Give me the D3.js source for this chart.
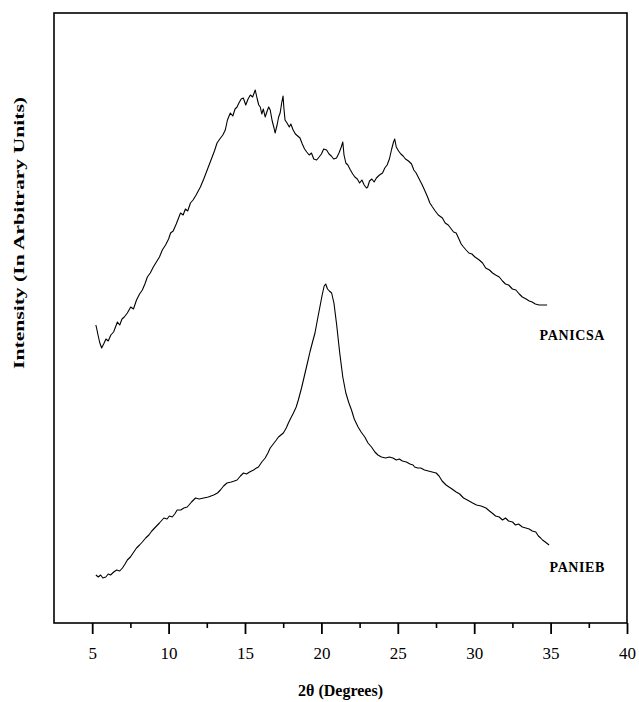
<!DOCTYPE html>
<html>
<head>
<meta charset="utf-8">
<script src="https://cdn.jsdelivr.net/npm/d3@7"></script>
<style>
  html, body { margin: 0; padding: 0; background: #fff; }
  svg { display: block; }
  text { font-family: "Liberation Serif", "Times New Roman", serif; fill: #000; }
</style>
</head>
<body>
<svg id="chart" width="639" height="702"></svg>
<script>
// X-ray diffraction patterns: 2θ (degrees) vs intensity (arbitrary units)
const xTicks = [5, 10, 15, 20, 25, 30, 35, 40];
const xMinorTicks = [7.5, 12.5, 17.5, 22.5, 27.5, 32.5, 37.5];

const panicsaAngle = [5.24, 5.30, 5.38, 5.50, 5.62, 5.75, 5.90, 6.05, 6.22, 6.40, 6.55, 6.65, 6.80, 6.95, 7.10, 7.30, 7.52, 7.70, 7.90, 8.10, 8.28, 8.45, 8.61, 8.80, 9.00, 9.20, 9.40, 9.59, 9.80, 10.00, 10.13, 10.30, 10.50, 10.78, 10.95, 11.10, 11.25, 11.43, 11.60, 11.80, 12.08, 12.30, 12.45, 12.60, 12.80, 13.00, 13.17, 13.35, 13.55, 13.71, 13.85, 14.04, 14.20, 14.35, 14.48, 14.60, 14.75, 14.89, 15.05, 15.20, 15.35, 15.50, 15.67, 15.80, 15.90, 16.00, 16.10, 16.20, 16.32, 16.45, 16.55, 16.65, 16.78, 16.90, 16.97, 17.10, 17.20, 17.30, 17.40, 17.49, 17.55, 17.62, 17.75, 17.90, 18.00, 18.15, 18.30, 18.45, 18.60, 18.75, 18.90, 19.04, 19.20, 19.35, 19.50, 19.69, 19.85, 20.00, 20.15, 20.34, 20.50, 20.65, 20.80, 20.99, 21.15, 21.30, 21.40, 21.48, 21.60, 21.73, 21.90, 22.05, 22.19, 22.35, 22.50, 22.65, 22.80, 22.95, 23.03, 23.15, 23.30, 23.45, 23.60, 23.80, 24.00, 24.15, 24.30, 24.45, 24.60, 24.72, 24.80, 24.90, 25.05, 25.20, 25.35, 25.50, 25.70, 25.90, 26.05, 26.20, 26.40, 26.60, 26.75, 26.95, 27.10, 27.27, 27.45, 27.65, 27.92, 28.10, 28.30, 28.50, 28.65, 28.82, 29.00, 29.15, 29.30, 29.47, 29.65, 29.85, 30.05, 30.33, 30.55, 30.75, 31.00, 31.20, 31.40, 31.64, 31.85, 32.05, 32.25, 32.50, 32.73, 32.95, 33.15, 33.40, 33.60, 33.79, 34.00, 34.25, 34.50, 34.77];
const panicsaIntensity = [300, 296, 290, 282, 277, 281, 286, 284, 290, 293, 299, 303, 300, 306, 308, 312, 318, 316, 325, 331, 335, 341, 348, 352, 358, 363, 368, 375, 380, 386, 392, 394, 401, 412, 410, 416, 414, 422, 425, 430, 438, 446, 452, 458, 466, 474, 482, 486, 490, 495, 505, 512, 509, 516, 518, 522, 526, 527, 520, 526, 530, 528, 535, 526, 520, 518, 511, 516, 508, 514, 518, 515, 504, 497, 492, 500, 508, 512, 522, 529, 516, 505, 502, 498, 501, 495, 491, 489, 487, 481, 476, 473, 470, 472, 466, 465, 468, 471, 476, 475, 471, 469, 466, 467, 472, 478, 483, 470, 462, 460, 455, 451, 448, 446, 442, 445, 440, 437, 438, 444, 446, 443, 447, 450, 452, 457, 460, 466, 476, 483, 486, 478, 474, 471, 469, 466, 464, 461, 455, 452, 446, 440, 435, 428, 422, 418, 414, 410, 407, 402, 400, 396, 393, 392, 386, 381, 378, 375, 372, 371, 368, 365, 362, 357, 355, 352, 350, 348, 344, 341, 340, 336, 335, 331, 328, 326, 324, 323, 321, 320, 320, 320];

const paniebAngle = [5.24, 5.40, 5.55, 5.70, 5.89, 6.05, 6.20, 6.41, 6.60, 6.80, 6.98, 7.15, 7.30, 7.50, 7.72, 7.90, 8.10, 8.28, 8.50, 8.71, 8.90, 9.15, 9.40, 9.69, 9.90, 10.05, 10.24, 10.40, 10.56, 10.80, 11.00, 11.22, 11.50, 11.76, 12.00, 12.30, 12.60, 12.95, 13.20, 13.39, 13.60, 13.82, 14.10, 14.30, 14.48, 14.70, 14.90, 15.10, 15.30, 15.56, 15.75, 15.88, 16.10, 16.32, 16.50, 16.65, 16.90, 17.05, 17.19, 17.35, 17.51, 17.70, 17.84, 18.00, 18.17, 18.35, 18.49, 18.70, 18.90, 19.10, 19.25, 19.42, 19.58, 19.75, 19.90, 20.05, 20.18, 20.28, 20.40, 20.52, 20.67, 20.82, 21.00, 21.20, 21.40, 21.60, 21.80, 21.97, 22.15, 22.40, 22.60, 22.84, 23.05, 23.28, 23.50, 23.70, 23.93, 24.20, 24.45, 24.68, 24.90, 25.10, 25.30, 25.56, 25.80, 26.00, 26.10, 26.30, 26.50, 26.75, 27.00, 27.25, 27.51, 27.70, 27.90, 28.16, 28.35, 28.55, 28.82, 29.05, 29.30, 29.55, 29.90, 30.15, 30.45, 30.77, 31.00, 31.25, 31.40, 31.64, 31.85, 32.05, 32.25, 32.51, 32.70, 32.90, 33.15, 33.38, 33.60, 33.80, 34.03, 34.20, 34.35, 34.47, 34.65, 34.90];
const paniebIntensity = [50, 48, 50, 47, 48, 51, 50, 53, 55, 54, 57, 61, 65, 68, 73, 77, 80, 83, 87, 90, 94, 98, 102, 107, 106, 109, 108, 111, 115, 115, 117, 118, 123, 127, 126, 127, 128, 130, 132, 135, 139, 142, 143, 144, 145, 149, 152, 151, 153, 155, 157, 158, 163, 167, 172, 177, 182, 185, 188, 190, 192, 197, 202, 207, 212, 218, 225, 237, 250, 263, 273, 283, 292, 306, 318, 330, 339, 341, 336, 334, 332, 322, 300, 272, 248, 232, 222, 215, 206, 198, 193, 188, 182, 178, 173, 170, 168, 167, 168, 167, 165, 166, 164, 163, 161, 160, 158, 157, 157, 155, 154, 153, 152, 149, 144, 140, 138, 136, 133, 131, 127, 125, 122, 120, 119, 117, 114, 111, 109, 108, 105, 107, 104, 103, 100, 101, 98, 97, 96, 94, 93, 89, 87, 85, 83, 80];

const seriesNames = ["PANICSA", "PANIEB"];

const svg = d3.select("#chart");
const margin = { left: 54, right: 12, top: 13, bottom: 79 };
const W = 639, H = 702;
const innerW = W - margin.left - margin.right;
const innerH = H - margin.top - margin.bottom;

const x = d3.scaleLinear().domain([2.5, 40]).range([margin.left, margin.left + innerW]);
const y = d3.scaleLinear().domain([2, 612]).range([margin.top + innerH, margin.top]);

const series = [
  { name: seriesNames[0], pts: panicsaAngle.map((a, i) => [a, panicsaIntensity[i]]) },
  { name: seriesNames[1], pts: paniebAngle.map((a, i) => [a, paniebIntensity[i]]) }
];

const line = d3.line().x(d => x(d[0])).y(d => y(d[1])).curve(d3.curveLinear);

svg.selectAll("path.trace")
  .data(series)
  .join("path")
  .attr("class", "trace")
  .attr("d", d => line(d.pts))
  .attr("fill", "none")
  .attr("stroke", "#000")
  .attr("stroke-width", 1.1)
  .attr("stroke-linejoin", "round");

// Frame
svg.append("rect")
  .attr("x", margin.left).attr("y", margin.top)
  .attr("width", innerW).attr("height", innerH)
  .attr("fill", "none").attr("stroke", "#000").attr("stroke-width", 1.6);

// Bottom axis: major ticks with labels, minor ticks between
const xAxis = d3.axisBottom(x).tickValues(xTicks).tickSize(11).tickPadding(13).tickFormat(d3.format("d"));
const gx = svg.append("g").attr("transform", `translate(0,${margin.top + innerH})`).call(xAxis);
gx.select(".domain").remove();
gx.selectAll(".tick line").attr("stroke", "#000").attr("stroke-width", 1.8);
gx.selectAll(".tick text")
  .attr("font-family", "Liberation Serif, serif")
  .attr("font-size", 17)
  .attr("fill", "#000");

const xMinor = d3.axisBottom(x).tickValues(xMinorTicks).tickSize(5).tickFormat("");
const gxm = svg.append("g").attr("transform", `translate(0,${margin.top + innerH})`).call(xMinor);
gxm.select(".domain").remove();
gxm.selectAll(".tick line").attr("stroke", "#000").attr("stroke-width", 1.6);

// Axis titles
svg.append("text")
  .attr("x", x(21.25)).attr("y", 696)
  .attr("text-anchor", "middle")
  .attr("font-size", 16).attr("font-weight", "bold")
  .text("2θ (Degrees)");

svg.append("text")
  .attr("transform", "translate(24,233) rotate(-90)")
  .attr("text-anchor", "middle")
  .attr("font-size", 14).attr("font-weight", "bold")
  .attr("textLength", 272).attr("lengthAdjust", "spacingAndGlyphs")
  .text("Intensity (In Arbitrary Units)");

// Series labels
const labelPos = [{ x: 605, y: 340 }, { x: 605, y: 572 }];
svg.selectAll("text.series-label")
  .data(series)
  .join("text")
  .attr("class", "series-label")
  .attr("x", (d, i) => labelPos[i].x)
  .attr("y", (d, i) => labelPos[i].y)
  .attr("text-anchor", "end")
  .attr("font-size", 14).attr("font-weight", "bold")
  .attr("letter-spacing", 0.6)
  .text(d => d.name);
</script>
</body>
</html>
